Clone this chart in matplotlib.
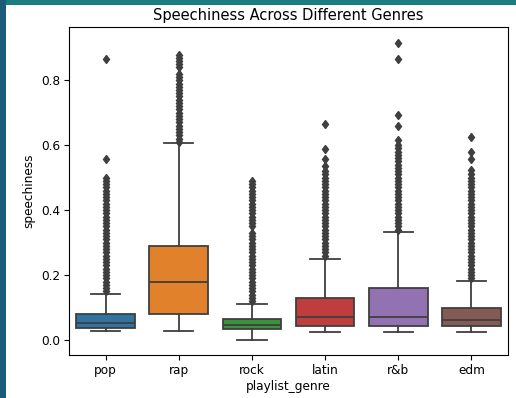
import matplotlib
matplotlib.use("Agg")
from matplotlib import pyplot as plt
from matplotlib.patches import Rectangle

genres = ['pop', 'rap', 'rock', 'latin', 'r&b', 'edm']
colors = ['#3274a1', '#e1812c', '#3a923a', '#c03d3e', '#9372b2', '#845b53']

# box stats
whislo = [0.027, 0.027, 0.0, 0.026, 0.024, 0.026]
q1 = [0.038, 0.080, 0.033, 0.044, 0.044, 0.044]
med = [0.051, 0.179, 0.046, 0.070, 0.070, 0.062]
q3 = [0.080, 0.291, 0.066, 0.130, 0.160, 0.099]
whishi = [0.142, 0.607, 0.110, 0.251, 0.333, 0.182]

fliers_pop = [0.15, 0.16, 0.17, 0.18, 0.19, 0.20, 0.21, 0.22, 0.23, 0.24,
              0.25, 0.26, 0.27, 0.28, 0.29, 0.30, 0.31, 0.32, 0.33, 0.34,
              0.35, 0.36, 0.37, 0.38, 0.39, 0.40, 0.41, 0.42, 0.43, 0.44,
              0.45, 0.46, 0.47, 0.48, 0.49, 0.50, 0.557, 0.867]
fliers_rap = [0.61, 0.62, 0.63, 0.64, 0.65, 0.66, 0.67, 0.68, 0.69, 0.70,
              0.71, 0.72, 0.73, 0.74, 0.75, 0.76, 0.77, 0.78, 0.79, 0.80,
              0.81, 0.82, 0.84, 0.85, 0.86, 0.87, 0.878]
fliers_rock = [0.12, 0.13, 0.14, 0.15, 0.16, 0.17, 0.18, 0.19, 0.20, 0.21,
               0.22, 0.23, 0.24, 0.25, 0.26, 0.27, 0.28, 0.29, 0.30, 0.31,
               0.32, 0.33, 0.35, 0.36, 0.37, 0.38, 0.39, 0.40, 0.41, 0.42,
               0.43, 0.44, 0.45, 0.46, 0.47, 0.48, 0.49]
fliers_latin = [0.26, 0.27, 0.28, 0.29, 0.30, 0.31, 0.32, 0.33, 0.34, 0.35,
                0.36, 0.37, 0.38, 0.39, 0.40, 0.41, 0.42, 0.43, 0.44, 0.45,
                0.46, 0.47, 0.48, 0.49, 0.50, 0.51, 0.52, 0.535, 0.557, 0.588,
                0.664]
fliers_rnb = [0.34, 0.35, 0.36, 0.37, 0.38, 0.39, 0.40, 0.41, 0.42, 0.43,
              0.44, 0.45, 0.46, 0.47, 0.48, 0.49, 0.50, 0.51, 0.52, 0.53,
              0.54, 0.55, 0.56, 0.57, 0.58, 0.59, 0.60, 0.615, 0.658, 0.694,
              0.867, 0.916]
fliers_edm = [0.19, 0.20, 0.21, 0.22, 0.23, 0.24, 0.25, 0.26, 0.27, 0.28,
              0.29, 0.30, 0.31, 0.32, 0.33, 0.34, 0.35, 0.36, 0.37, 0.38,
              0.39, 0.40, 0.41, 0.42, 0.43, 0.44, 0.45, 0.46, 0.47, 0.48,
              0.49, 0.50, 0.51, 0.523, 0.559, 0.58, 0.624]
fliers = [fliers_pop, fliers_rap, fliers_rock, fliers_latin, fliers_rnb, fliers_edm]

stats = []
for i, g in enumerate(genres):
    stats.append(dict(label=g, whislo=whislo[i], q1=q1[i], med=med[i],
                      q3=q3[i], whishi=whishi[i], fliers=fliers[i]))

plt.rcParams['font.size'] = 8.7
line = '#3f3f3f'
fig = plt.figure(figsize=(5.16, 3.98), dpi=100, facecolor='white')
# screenshot frame
fig.patches.append(Rectangle((0, 1 - 5/398), 1, 5/398, transform=fig.transFigure,
                             facecolor='#1b7d80', edgecolor='none', zorder=-1))
fig.patches.append(Rectangle((0, 0), 6/516, 1, transform=fig.transFigure,
                             facecolor='#1d5c78', edgecolor='none', zorder=-1))

ax = fig.add_axes([69/516, 43/398, 439/516, 328/398])
bp = ax.bxp(stats, positions=range(len(genres)), widths=0.8, patch_artist=True,
            boxprops=dict(edgecolor=line, linewidth=1.3),
            medianprops=dict(color=line, linewidth=1.3),
            whiskerprops=dict(color=line, linewidth=1.3),
            capprops=dict(color=line, linewidth=1.3),
            flierprops=dict(marker='d', markerfacecolor=line, markeredgecolor=line,
                            markersize=4.5))
for patch, c in zip(bp['boxes'], colors):
    patch.set_facecolor(c)
for cap in bp['caps']:
    x = cap.get_xdata()
    mid = (x[0] + x[1]) / 2
    cap.set_xdata([mid - 0.2, mid + 0.2])

ax.set_xlim(-0.5, 5.5)
ax.set_ylim(-0.046, 0.964)
ax.set_yticks([0.0, 0.2, 0.4, 0.6, 0.8])
ax.set_xticks(range(len(genres)))
ax.set_xticklabels(genres)
ax.tick_params(labelsize=8.7, length=3.5, pad=3)
ax.set_xlabel('playlist_genre', fontsize=8.7, labelpad=2)
ax.set_ylabel('speechiness', fontsize=8.7)
ax.set_title('Speechiness Across Different Genres', fontsize=10.5, pad=5)

fig.savefig('out.png', dpi=100, facecolor=fig.get_facecolor())
